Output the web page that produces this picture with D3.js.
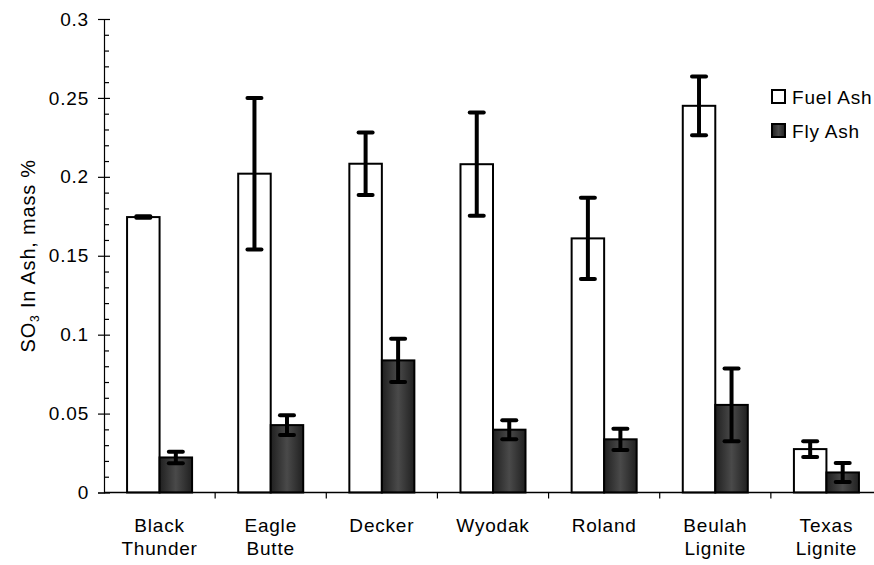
<!DOCTYPE html>
<html>
<head>
<meta charset="utf-8">
<script src="https://cdn.jsdelivr.net/npm/d3@7"></script>
<style>
  html, body { margin: 0; padding: 0; background: #fff; }
  svg { display: block; }
  text { font-family: "Liberation Sans", Arial, Helvetica, sans-serif; fill: #000; letter-spacing: 0.8px; }
</style>
</head>
<body>
<svg id="chart" width="874" height="565"></svg>
<script>
// ---- data ----
const categories = ["Black Thunder", "Eagle Butte", "Decker", "Wyodak", "Roland", "Beulah Lignite", "Texas Lignite"];
const categoryLines = [["Black", "Thunder"], ["Eagle", "Butte"], ["Decker"], ["Wyodak"], ["Roland"], ["Beulah", "Lignite"], ["Texas", "Lignite"]];
const seriesNames = ["Fuel Ash", "Fly Ash"];
const fuelAsh = [0.1745, 0.202, 0.2083, 0.208, 0.161, 0.245, 0.0275];
const fuelAshErr = [0.0005, 0.048, 0.0198, 0.0327, 0.0257, 0.0186, 0.005];
const flyAsh = [0.0222, 0.0427, 0.0837, 0.0398, 0.0337, 0.0555, 0.0127];
const flyAshErr = [0.0036, 0.0062, 0.0137, 0.006, 0.0067, 0.023, 0.006];
const yTicks = [0, 0.05, 0.1, 0.15, 0.2, 0.25, 0.3];
const yTickLabels = ["0", "0.05", "0.1", "0.15", "0.2", "0.25", "0.3"];

(function () {
const svg = d3.select("#chart");
const FONT = 19;

const defs = svg.append("defs");
const grad = defs.append("linearGradient").attr("id", "flyGrad").attr("x1", "0").attr("x2", "1").attr("y1", "0").attr("y2", "0");
grad.append("stop").attr("offset", "0%").attr("stop-color", "#202020");
grad.append("stop").attr("offset", "50%").attr("stop-color", "#4a4a4a");
grad.append("stop").attr("offset", "100%").attr("stop-color", "#202020");

const pLeft = 104, pRight = 882, pTop = 19, pBottom = 492.5;

const y = d3.scaleLinear().domain([0, 0.3]).range([pBottom, pTop]);
const xCat = d3.scaleBand().domain(categories).range([pLeft, pRight]).padding(0);
const x0 = d3.scaleBand().domain(categories).range([pLeft, pRight]).paddingInner(0.415).paddingOuter(0.2075);
const x1 = d3.scaleBand().domain(seriesNames).range([0, x0.bandwidth()]).padding(0);

const data = categories.map((c, i) => ({
  cat: c,
  vals: [
    { s: "Fuel Ash", v: fuelAsh[i], e: fuelAshErr[i] },
    { s: "Fly Ash", v: flyAsh[i], e: flyAshErr[i] }
  ]
}));

const fills = { "Fuel Ash": "#ffffff", "Fly Ash": "url(#flyGrad)" };

const groups = svg.append("g").selectAll("g").data(data).join("g")
  .attr("transform", d => `translate(${x0(d.cat)},0)`);

groups.selectAll("rect").data(d => d.vals).join("rect")
  .attr("x", d => x1(d.s))
  .attr("y", d => y(d.v))
  .attr("width", x1.bandwidth())
  .attr("height", d => y(0) - y(d.v))
  .attr("fill", d => fills[d.s])
  .attr("stroke", "#000")
  .attr("stroke-width", 2);

const eb = groups.selectAll("g.err").data(d => d.vals).join("g").attr("class", "err");
eb.append("line")
  .attr("x1", d => x1(d.s) + x1.bandwidth() / 2)
  .attr("x2", d => x1(d.s) + x1.bandwidth() / 2)
  .attr("y1", d => y(d.v + d.e))
  .attr("y2", d => y(d.v - d.e))
  .attr("stroke", "#000").attr("stroke-width", 4);
[1, -1].forEach(sign => {
  eb.append("line")
    .attr("x1", d => x1(d.s) + x1.bandwidth() / 2 - 7)
    .attr("x2", d => x1(d.s) + x1.bandwidth() / 2 + 7)
    .attr("y1", d => y(d.v + sign * d.e))
    .attr("y2", d => y(d.v + sign * d.e))
    .attr("stroke", "#000").attr("stroke-width", 4).attr("stroke-linecap", "round");
});

const yAxis = svg.append("g").attr("transform", `translate(${pLeft},0)`)
  .call(d3.axisLeft(y).tickValues(yTicks).tickFormat((d, i) => yTickLabels[i]).tickSize(6).tickPadding(9));
yAxis.select(".domain").attr("stroke", "#000").attr("stroke-width", 1.2);
yAxis.selectAll(".tick line").attr("x1", 6).attr("stroke", "#000").attr("stroke-width", 1.2);
yAxis.selectAll(".tick text").style("font-size", FONT + "px").style("font-family", '"Liberation Sans", Arial, sans-serif');

const minorVals = d3.range(1, 30).filter(k => k % 5 !== 0).map(k => k / 100);
const yMinor = svg.append("g").attr("transform", `translate(${pLeft},0)`)
  .call(d3.axisRight(y).tickValues(minorVals).tickSize(5).tickFormat(""));
yMinor.select(".domain").remove();
yMinor.selectAll(".tick line").attr("stroke", "#000").attr("stroke-width", 1.2);

svg.append("line").attr("x1", pLeft).attr("x2", pRight).attr("y1", y(0)).attr("y2", y(0))
  .attr("stroke", "#000").attr("stroke-width", 1.5);
svg.append("g").selectAll("line").data(categories.slice(1)).join("line")
  .attr("x1", d => xCat(d)).attr("x2", d => xCat(d))
  .attr("y1", y(0)).attr("y2", y(0) + 6)
  .attr("stroke", "#000").attr("stroke-width", 1.2);

const xl = svg.append("g").selectAll("text").data(categories).join("text")
  .attr("x", d => xCat(d) + xCat.bandwidth() / 2)
  .attr("y", 532)
  .attr("text-anchor", "middle")
  .style("font-size", FONT + "px");
xl.selectAll("tspan").data((d, i) => categoryLines[i]).join("tspan")
  .attr("x", function () { return d3.select(this.parentNode).attr("x"); })
  .attr("dy", (d, i) => i === 0 ? 0 : 23)
  .text(d => d);

const yt = svg.append("text")
  .attr("transform", `translate(35,${(pTop + pBottom) / 2}) rotate(-90)`)
  .attr("text-anchor", "middle")
  .style("font-size", "20px");
yt.append("tspan").text("SO");
yt.append("tspan").text("3").style("font-size", "12px").attr("dy", 4);
yt.append("tspan").text(" In Ash, mass %").attr("dy", -4);

const legend = svg.append("g").selectAll("g").data(seriesNames).join("g")
  .attr("transform", (d, i) => `translate(772,${90 + i * 34})`);
legend.append("rect").attr("width", 13).attr("height", 13)
  .attr("fill", d => fills[d]).attr("stroke", "#000").attr("stroke-width", 2);
legend.append("text").attr("x", 20).attr("y", 13.5).style("font-size", FONT + "px").text(d => d);
})();
</script>
</body>
</html>
